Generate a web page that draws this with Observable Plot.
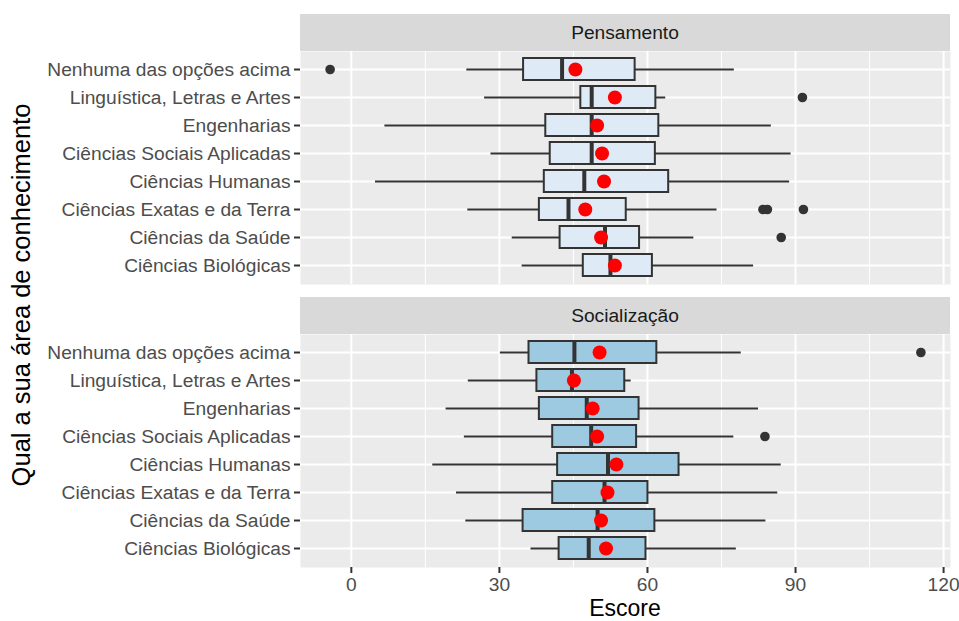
<!DOCTYPE html>
<html>
<head>
<meta charset="utf-8">
<script src="https://cdn.jsdelivr.net/npm/d3@7"></script>
<script src="https://cdn.jsdelivr.net/npm/@observablehq/plot@0.6"></script>
<style>
  body { margin: 0; background: #ffffff; }
  #chart { position: relative; width: 959px; height: 621px; font-family: "Liberation Sans", Arial, Helvetica, sans-serif; overflow: hidden; }
  .strip { position: absolute; left: 300px; width: 650px; height: 37px; background: #d9d9d9; color: #1a1a1a; font-size: 19.2px; display: flex; align-items: center; justify-content: center; }
  .panel { position: absolute; left: 0; }
  #ytitle { position: absolute; left: 21px; top: 295px; transform: translate(-50%, -50%) rotate(-90deg); white-space: nowrap; font-size: 25.5px; color: #000; }
  #xtitle { position: absolute; left: 625px; top: 595px; transform: translateX(-50%); font-size: 23px; color: #000; white-space: nowrap; }
</style>
</head>
<body>
<div id="chart">
  <div id="ytitle">Qual a sua área de conhecimento</div>
  <div class="strip" style="top:14px">Pensamento</div>
  <div class="panel" id="p1" style="top:51px"></div>
  <div class="strip" style="top:297px">Socialização</div>
  <div class="panel" id="p2" style="top:334px"></div>
  <div id="xtitle">Escore</div>
</div>
<script>
const categories = [
  "Nenhuma das opções acima",
  "Linguística, Letras e Artes",
  "Engenharias",
  "Ciências Sociais Aplicadas",
  "Ciências Humanas",
  "Ciências Exatas e da Terra",
  "Ciências da Saúde",
  "Ciências Biológicas"
];
const xTicks = [0, 30, 60, 90, 120];
const xMinorTicks = [15, 45, 75, 105];

// Pensamento
const pensLo   = [23.4, 27.0, 6.8, 28.3, 4.9, 23.6, 32.6, 34.6];
const pensQ1   = [34.9, 46.5, 39.4, 40.3, 39.1, 38.1, 42.3, 47.0];
const pensMed  = [42.7, 48.7, 48.7, 48.7, 47.2, 44.0, 51.4, 52.5];
const pensQ3   = [57.5, 61.7, 62.3, 61.6, 64.3, 55.7, 58.4, 61.0];
const pensHi   = [77.6, 63.7, 85.1, 89.1, 88.8, 74.1, 69.4, 81.5];
const pensMean = [45.4, 53.4, 49.8, 50.8, 51.2, 47.4, 50.6, 53.4];
const pensOutCat = ["Nenhuma das opções acima", "Linguística, Letras e Artes", "Ciências Exatas e da Terra", "Ciências Exatas e da Terra", "Ciências Exatas e da Terra", "Ciências da Saúde"];
const pensOutVal = [-4.3, 91.4, 83.4, 84.3, 91.6, 87.1];

// Socialização
const socLo   = [30.2, 23.7, 19.2, 22.9, 16.5, 21.3, 23.2, 36.4];
const socQ1   = [36.0, 37.6, 38.1, 40.8, 41.8, 40.8, 34.8, 42.1];
const socMed  = [45.2, 44.7, 47.7, 48.6, 52.0, 51.3, 49.9, 48.1];
const socQ3   = [61.9, 55.4, 58.3, 57.8, 66.4, 60.1, 61.5, 59.7];
const socHi   = [79.0, 56.7, 82.5, 77.5, 87.1, 86.4, 84.0, 78.0];
const socMean = [50.3, 45.1, 48.9, 49.8, 53.7, 51.9, 50.6, 51.6];
const socOutCat = ["Nenhuma das opções acima", "Ciências Sociais Aplicadas"];
const socOutVal = [115.4, 83.8];

const fillPens = "#deebf7";
const fillSoc = "#9ecae1";

function rowsOf(lo, q1, med, q3, hi, mean) {
  return categories.map((c, i) => ({cat: c, lo: lo[i], q1: q1[i], med: med[i], q3: q3[i], hi: hi[i], mean: mean[i]}));
}
function outsOf(cats, vals) {
  return cats.map((c, i) => ({cat: c, v: vals[i]}));
}

function panel(rows, outs, fill, withX) {
  const marks = [
    Plot.frame({fill: "#ebebeb", stroke: null}),
    Plot.gridX(xMinorTicks, {stroke: "#ffffff", strokeOpacity: 1, strokeWidth: 1}),
    Plot.gridX(xTicks, {stroke: "#ffffff", strokeOpacity: 1, strokeWidth: 2}),
    Plot.gridY(categories, {stroke: "#ffffff", strokeOpacity: 1, strokeWidth: 2}),
    Plot.axisY({tickSize: 6, tickPadding: 4, strokeWidth: 2, stroke: "#333333", fill: "#4d4d4d", fontSize: 19.2, label: null}),
    Plot.ruleY(rows, {y: "cat", x1: "lo", x2: "q1", stroke: "#333333", strokeWidth: 2}),
    Plot.ruleY(rows, {y: "cat", x1: "q3", x2: "hi", stroke: "#333333", strokeWidth: 2}),
    Plot.barX(rows, {y: "cat", x1: "q1", x2: "q3", fill: fill, stroke: "#333333", strokeWidth: 2}),
    Plot.tickX(rows, {y: "cat", x: "med", stroke: "#333333", strokeWidth: 4}),
    Plot.dot(outs, {y: "cat", x: "v", r: 4.8, fill: "#333333", stroke: null}),
    Plot.dot(rows, {y: "cat", x: "mean", r: 7, fill: "#ff0000", stroke: null})
  ];
  if (withX) {
    marks.push(Plot.axisX({ticks: xTicks, tickSize: 6, tickPadding: 4, strokeWidth: 2, stroke: "#333333", fill: "#4d4d4d", fontSize: 19.2, label: null}));
  }
  return Plot.plot({
    width: 959,
    height: withX ? 263 : 233,
    marginLeft: 300,
    marginRight: 9,
    marginTop: 0,
    marginBottom: withX ? 30 : 0,
    style: {fontFamily: '"Liberation Sans", Arial, Helvetica, sans-serif', fontSize: "19.2px", background: "transparent", overflow: "visible"},
    x: {domain: [-10.3, 121.4], axis: null},
    y: {domain: categories, type: "band", paddingInner: 0.2, paddingOuter: 0.2, axis: null},
    marks
  });
}

document.getElementById("p1").appendChild(panel(rowsOf(pensLo, pensQ1, pensMed, pensQ3, pensHi, pensMean), outsOf(pensOutCat, pensOutVal), fillPens, false));
document.getElementById("p2").appendChild(panel(rowsOf(socLo, socQ1, socMed, socQ3, socHi, socMean), outsOf(socOutCat, socOutVal), fillSoc, true));
</script>
</body>
</html>
